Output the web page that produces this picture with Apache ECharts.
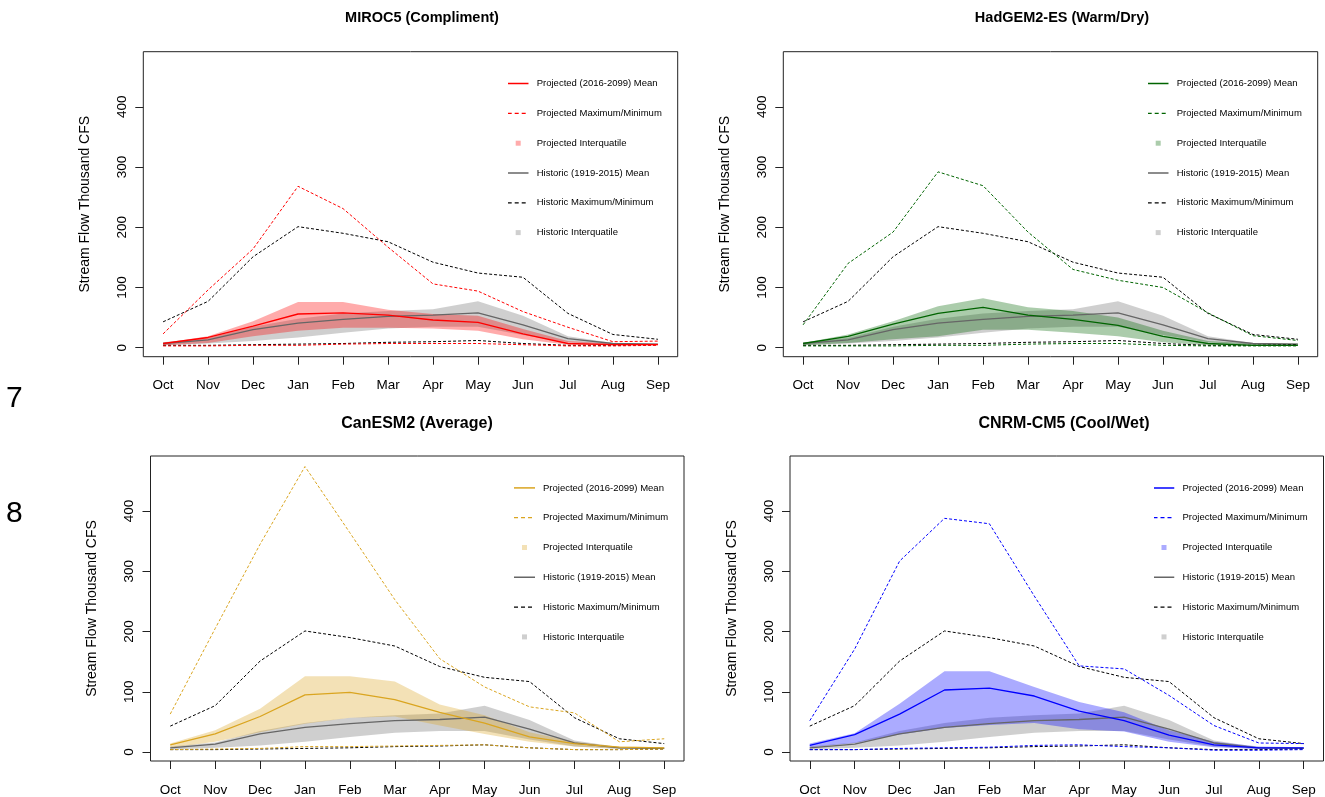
<!DOCTYPE html>
<html><head><meta charset="utf-8">
<script src="https://cdn.jsdelivr.net/npm/echarts@6/dist/echarts.min.js"></script>
<style>
html,body{margin:0;padding:0;background:#fff;width:1325px;height:797px;overflow:hidden;}
.p{position:absolute;left:0;top:0;width:1325px;height:797px;}
</style></head><body>
<div id="c0" class="p"></div><div id="c1" class="p"></div><div id="c2" class="p"></div><div id="c3" class="p"></div>
<script>
// ---- categories / ticks ----
const months = ['Oct','Nov','Dec','Jan','Feb','Mar','Apr','May','Jun','Jul','Aug','Sep'];
const yTicks = [0, 100, 200, 300, 400];

// ---- historic (1919-2015), shared by all panels ----
const histMean = [7, 13, 30, 41, 47, 52, 54, 58, 38, 15, 7, 6];
const histMax  = [43, 77, 151, 201, 190, 176, 142, 124, 117, 57, 22, 14];
const histMin  = [4, 4, 5, 6, 7, 9, 10, 12, 7, 4, 4, 5];
const histQ75  = [9, 16, 35, 48, 57, 61, 64, 77, 53, 19, 8, 6];
const histQ25  = [4, 7, 11, 17, 25, 32, 35, 35, 21, 9, 5, 5];

// ---- MIROC5 ----
const mirocMean = [7, 17, 36, 56, 58, 54, 46, 42, 23, 7, 5, 5];
const mirocMax  = [23, 96, 164, 268, 231, 167, 106, 94, 60, 34, 10, 11];
const mirocMin  = [3, 3, 4, 4, 6, 7, 7, 7, 5, 3, 3, 4];
const mirocQ75  = [8, 19, 44, 76, 76, 63, 56, 53, 31, 11, 7, 7];
const mirocQ25  = [4, 8, 19, 28, 33, 33, 32, 28, 14, 5, 4, 4];

// ---- HadGEM2-ES ----
const hadMean = [7, 19, 39, 57, 67, 54, 47, 37, 19, 7, 4, 4];
const hadMax  = [38, 140, 192, 292, 269, 192, 130, 112, 100, 58, 20, 12];
const hadMin  = [3, 3, 3, 4, 4, 6, 7, 7, 4, 3, 3, 3];
const hadQ75  = [8, 22, 44, 69, 82, 67, 61, 50, 28, 11, 7, 7];
const hadQ25  = [4, 8, 14, 19, 30, 30, 25, 19, 9, 4, 4, 4];

// ---- CanESM2 ----
const canMean = [12, 30, 59, 95, 99, 87, 66, 48, 25, 14, 8, 7];
const canMax  = [63, 205, 345, 474, 364, 253, 155, 108, 75, 65, 17, 22];
const canMin  = [4, 5, 6, 9, 9, 10, 11, 12, 7, 4, 4, 5];
const canQ75  = [14, 36, 72, 126, 126, 117, 79, 61, 33, 17, 9, 8];
const canQ25  = [7, 17, 33, 47, 57, 59, 44, 30, 17, 9, 6, 6];

// ---- CNRM-CM5 ----
const cnrmMean = [11, 29, 63, 103, 106, 93, 68, 52, 28, 12, 7, 7];
const cnrmMax  = [52, 171, 317, 388, 379, 259, 143, 138, 94, 44, 15, 14];
const cnrmMin  = [4, 4, 6, 7, 8, 11, 12, 9, 7, 3, 3, 4];
const cnrmQ75  = [14, 31, 80, 134, 134, 108, 83, 66, 36, 17, 9, 8];
const cnrmQ25  = [8, 15, 29, 40, 45, 48, 38, 34, 17, 8, 5, 5];

const FONT = '"Liberation Sans", Arial, sans-serif';
const HIST_BAND = 'rgba(160,160,160,0.5)';
const HIST_MEAN = '#666666';

const panels = [
  {id:'c0', title:'MIROC5 (Compliment)', color:'#ff0000', band:'rgba(255,0,0,0.33)',
   mean:mirocMean, max:mirocMax, min:mirocMin, q75:mirocQ75, q25:mirocQ25,
   box:{l:143.3, t:51.7, r:677.7, b:356.7}, titleX:422, titleY:10, titleSize:14.5, nameSize:14},
  {id:'c1', title:'HadGEM2-ES (Warm/Dry)', color:'#006400', band:'rgba(0,100,0,0.33)',
   mean:hadMean, max:hadMax, min:hadMin, q75:hadQ75, q25:hadQ25,
   box:{l:783.3, t:51.7, r:1317.7, b:356.7}, titleX:1062, titleY:10, titleSize:14.5, nameSize:14},
  {id:'c2', title:'CanESM2 (Average)', color:'#daa520', band:'rgba(218,165,32,0.33)',
   mean:canMean, max:canMax, min:canMin, q75:canQ75, q25:canQ25,
   box:{l:150.5, t:456, r:684, b:762.3}, titleX:417, titleY:416, titleSize:16, nameSize:14},
  {id:'c3', title:'CNRM-CM5 (Cool/Wet)', color:'#0000ff', band:'rgba(0,0,255,0.33)',
   mean:cnrmMean, max:cnrmMax, min:cnrmMin, q75:cnrmQ75, q25:cnrmQ25,
   box:{l:790, t:456, r:1323.5, b:762.3}, titleX:1064, titleY:416, titleSize:16, nameSize:14}
];

function pairs(arr){ return arr.map((v,i)=>[i,v]); }
function svgIcon(inner){
  const svg = '<svg xmlns="http://www.w3.org/2000/svg" width="21" height="12" viewBox="0 0 21 12">' + inner + '</svg>';
  return 'image://data:image/svg+xml;charset=utf-8,' + encodeURIComponent(svg);
}
function lineIcon(col, w, dashed){
  return svgIcon('<line x1="0" y1="6" x2="21" y2="6" stroke="' + col + '" stroke-width="' + w + '"' +
    (dashed ? ' stroke-dasharray="4,3"' : '') + '/>');
}
function squareIcon(col){
  return svgIcon('<rect x="8" y="3.5" width="5" height="5" fill="' + col + '"/>');
}
// band polygon (upper edge forward, lower edge back) drawn through the axis scales
function bandSeries(name, lo, hi, fill, z){
  return {
    type:'custom', name:name, silent:true, z:z, animation:false, color:fill,
    data: lo.map((v,i)=>[i, v, hi[i]]),
    encode:{x:0, y:[1,2]},
    renderItem: function(params, api){
      if (params.dataIndex !== 0) return null;
      const up = hi.map((v,i)=>api.coord([i, v]));
      const dn = lo.map((v,i)=>api.coord([i, v])).reverse();
      return {type:'polygon', shape:{points: up.concat(dn)}, style:{fill: fill, stroke:null}};
    }
  };
}

function build(p, idx){
  const b = p.box;
  const base = {type:'line', symbol:'none', showSymbol:false, silent:true, emphasis:{disabled:true}, animation:false};
  const dash = [3,2];
  const series = [
    bandSeries('Historic Interquatile', histQ25, histQ75, HIST_BAND, 1),
    bandSeries('Projected Interquatile', p.q25, p.q75, p.band, 2),
    Object.assign({}, base, {name:'Historic (1919-2015) Mean', data:pairs(histMean), color:HIST_MEAN, lineStyle:{color:HIST_MEAN, width:1.3}, z:3}),
    Object.assign({}, base, {name:'Historic Maximum/Minimum', data:pairs(histMax), color:'#000', lineStyle:{color:'#000', width:1, type:dash}, z:3}),
    Object.assign({}, base, {name:'Historic Maximum/Minimum', data:pairs(histMin), color:'#000', lineStyle:{color:'#000', width:1, type:dash}, z:3}),
    Object.assign({}, base, {name:'Projected (2016-2099) Mean', data:pairs(p.mean), color:p.color, lineStyle:{color:p.color, width:1.3}, z:4}),
    Object.assign({}, base, {name:'Projected Maximum/Minimum', data:pairs(p.max), color:p.color, lineStyle:{color:p.color, width:1, type:dash}, z:4}),
    Object.assign({}, base, {name:'Projected Maximum/Minimum', data:pairs(p.min), color:p.color, lineStyle:{color:p.color, width:1, type:dash}, z:4})
  ];
  const opt = {
    animation:false,
    textStyle:{fontFamily:FONT},
    title:{text:p.title, left:p.titleX, top:p.titleY, textAlign:'center', padding:0,
      textStyle:{fontSize:p.titleSize, fontWeight:'bold', color:'#000', fontFamily:FONT}},
    grid:{left:b.l, top:b.t, width:b.r-b.l, height:b.b-b.t, show:true, borderColor:'#222', borderWidth:1, backgroundColor:'transparent', containLabel:false},
    legend:{orient:'vertical', left:b.r-170, top:b.t+25.9, padding:0, itemWidth:21, itemHeight:12, itemGap:17.8,
      selectedMode:false,
      textStyle:{fontSize:9.5, color:'#000', fontFamily:FONT, padding:[0,0,0,3]},
      data:[
        {name:'Projected (2016-2099) Mean', icon:lineIcon(p.color, 1.5, false)},
        {name:'Projected Maximum/Minimum', icon:lineIcon(p.color, 1.2, true)},
        {name:'Projected Interquatile', icon:squareIcon(p.band)},
        {name:'Historic (1919-2015) Mean', icon:lineIcon(HIST_MEAN, 1.5, false)},
        {name:'Historic Maximum/Minimum', icon:lineIcon('#000', 1.2, true)},
        {name:'Historic Interquatile', icon:squareIcon(HIST_BAND)}
      ]},
    xAxis:{type:'value', min:-0.44, max:11.44,
      axisLine:{show:false, onZero:false},
      splitLine:{show:false},
      axisTick:{show:true, inside:false, length:8, customValues:months.map((m,i)=>i), lineStyle:{color:'#222'}},
      axisLabel:{customValues:months.map((m,i)=>i), formatter:(v)=>months[Math.round(v)], margin:22, fontSize:13.5, color:'#000', fontFamily:FONT}},
    yAxis:{type:'value', min:-14.9, max:491.5,
      axisLine:{show:false, onZero:false},
      splitLine:{show:false},
      axisTick:{show:true, inside:false, length:8, customValues:yTicks, lineStyle:{color:'#222'}},
      axisLabel:{customValues:yTicks, rotate:90, margin:14, fontSize:13.5, color:'#000', fontFamily:FONT},
      name:'Stream Flow Thousand CFS', nameLocation:'middle', nameGap:51, nameRotate:90,
      nameTextStyle:{fontSize:p.nameSize, color:'#000', fontFamily:FONT}},
    series:series
  };
  if (idx === 0) {
    opt.graphic = [
      {type:'text', left:6, top:384, style:{text:'7', fontSize:30, fill:'#000', fontFamily:FONT}},
      {type:'text', left:6, top:499, style:{text:'8', fontSize:30, fill:'#000', fontFamily:FONT}}
    ];
  }
  return opt;
}

panels.forEach((p, i) => {
  const chart = echarts.init(document.getElementById(p.id), null, {renderer:'canvas'});
  chart.setOption(build(p, i));
});
</script>
</body></html>
